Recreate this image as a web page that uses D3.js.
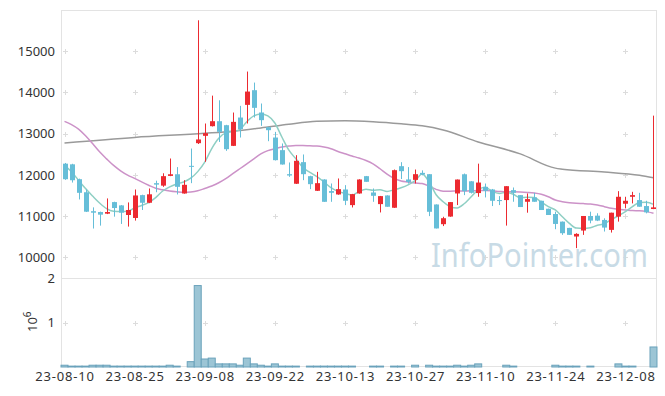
<!DOCTYPE html>
<html>
<head>
<meta charset="utf-8">
<title>Candles</title>
<script src="https://d3js.org/d3.v7.min.js"></script>
<style>
  body { margin: 0; background: #fff; }
  text { font-family: "Noto Sans", sans-serif; }
</style>
</head>
<body>
<div id="chart"></div>
<script>
// trading days (KRX), 23-08-10 .. 23-12-14
const dates = [
  "23-08-10","23-08-11","23-08-14","23-08-16","23-08-17","23-08-18","23-08-21","23-08-22","23-08-23","23-08-24",
  "23-08-25","23-08-28","23-08-29","23-08-30","23-08-31","23-09-01","23-09-04","23-09-05","23-09-06","23-09-07",
  "23-09-08","23-09-11","23-09-12","23-09-13","23-09-14","23-09-15","23-09-18","23-09-19","23-09-20","23-09-21",
  "23-09-22","23-09-25","23-09-26","23-09-27","23-10-04","23-10-05","23-10-06","23-10-10","23-10-11","23-10-12",
  "23-10-13","23-10-16","23-10-17","23-10-18","23-10-19","23-10-20","23-10-23","23-10-24","23-10-25","23-10-26",
  "23-10-27","23-10-30","23-10-31","23-11-01","23-11-02","23-11-03","23-11-06","23-11-07","23-11-08","23-11-09",
  "23-11-10","23-11-13","23-11-14","23-11-15","23-11-16","23-11-17","23-11-20","23-11-21","23-11-22","23-11-23",
  "23-11-24","23-11-27","23-11-28","23-11-29","23-11-30","23-12-01","23-12-04","23-12-05","23-12-06","23-12-07",
  "23-12-08","23-12-11","23-12-12","23-12-13","23-12-14"
];

const open = [
  12273,12257,11896,11580,11120,11100,11060,11341,11261,11028,
  10956,11510,11325,11800,11740,11976,12016,11550,12220,12770,
  12948,13182,13303,13206,12705,13392,13699,14055,13514,13158,
  12907,12601,12018,11786,12310,11970,11615,11889,11608,11526,
  11647,11268,11550,11970,11574,11292,11502,11204,12212,11890,
  11880,12050,12018,11283,10805,10990,11550,12016,11845,11560,
  11711,11647,11390,11390,11631,11510,11349,11454,11373,11180,
  11052,10867,10715,10506,10651,11004,11012,10908,10667,10988,
  11301,11470,11390,11245,11173
];
const high = [
  12290,12270,11910,11647,11213,11110,11430,11350,11270,11333,
  11647,11520,11671,11860,12040,12398,12190,11872,12640,15750,
  13247,13923,13810,13215,13513,13675,14507,14240,13732,13165,
  13044,12763,12302,12479,12496,11980,12075,11895,11792,11914,
  11752,11540,11895,11975,11671,11490,11505,12131,12309,12190,
  12131,12110,12020,11285,10985,11341,11889,12034,11850,12273,
  11791,11660,11486,11727,11695,11512,11550,11566,11375,11182,
  11108,10870,10717,10586,11004,11108,11070,10948,11084,11606,
  11470,11590,11566,11373,13438
];
const low = [
  11880,11815,11405,11100,10700,10770,11050,10988,10811,10747,
  10892,11149,11315,11580,11711,11970,11526,11545,11800,12750,
  12318,13175,12800,12584,12700,12907,13247,13392,13190,12818,
  12350,12250,11953,11780,11873,11655,11610,11348,11348,11520,
  11268,11211,11545,11833,11348,11090,11228,11200,11900,11790,
  11792,11990,11001,10702,10759,10985,11269,11510,11550,11470,
  11454,11245,11269,10771,11349,11221,11084,11349,11149,11028,
  10683,10546,10546,10225,10546,10827,10880,10627,10602,10867,
  11189,11309,11229,11068,11170
];
const close = [
  11896,11871,11566,11108,11084,11036,11100,11197,11084,11149,
  11502,11325,11530,11765,11970,12016,11711,11760,12200,12860,
  13012,13303,13045,12624,13287,13109,14022,13627,13328,13085,
  12358,12253,11986,12342,12018,11776,11800,11348,11567,11655,
  11373,11534,11889,11833,11494,11486,11228,12115,12091,11830,
  12018,12010,11106,10702,10950,11341,11888,11606,11566,11815,
  11614,11373,11373,11727,11566,11221,11414,11349,11149,11028,
  10811,10586,10546,10570,11004,10892,10892,10723,11084,11470,
  11373,11510,11229,11092,11213
];
const volume = [
  40000,20000,20000,20000,40000,40000,40000,20000,20000,20000,
  20000,20000,20000,20000,20000,40000,20000,0,120000,1830000,
  180000,200000,70000,70000,70000,40000,200000,70000,40000,20000,
  70000,20000,20000,20000,0,20000,20000,20000,20000,20000,
  20000,20000,0,0,20000,20000,0,20000,20000,0,
  40000,0,40000,20000,20000,20000,40000,20000,40000,70000,
  0,0,0,40000,20000,0,0,0,0,0,
  40000,20000,20000,20000,0,20000,0,0,0,70000,
  20000,20000,0,0,450000
];

// moving averages
const ma5 = [
  12230,12075,11870,11670,11490,11320,11185,11120,11110,11120,
  11200,11260,11330,11450,11610,11710,11780,11830,11920,12080,
  12310,12640,12890,13020,13050,13100,13290,13430,13480,13430,
  13260,12920,12600,12390,12180,12060,11960,11830,11690,11600,
  11550,11510,11600,11655,11630,11640,11600,11640,11690,11760,
  11860,12020,11830,11520,11350,11230,11200,11300,11470,11640,
  11700,11600,11550,11580,11530,11450,11460,11450,11340,11230,
  11150,10985,10825,10710,10705,10720,10780,10815,10920,11010,
  11110,11230,11330,11335,11285
];
const ma20 = [
  13300,13220,13110,12950,12760,12560,12390,12230,12100,11995,
  11915,11830,11750,11675,11640,11610,11590,11575,11585,11615,
  11670,11730,11810,11910,12030,12150,12270,12390,12510,12590,
  12635,12675,12700,12715,12715,12705,12700,12675,12635,12570,
  12515,12460,12410,12350,12270,12150,12020,11915,11855,11830,
  11805,11790,11730,11650,11605,11605,11610,11612,11614,11620,
  11620,11615,11600,11590,11590,11585,11575,11560,11530,11470,
  11390,11350,11325,11310,11305,11295,11270,11230,11190,11165,
  11150,11135,11130,11110,11070
];
const maLongIdx = [0, 10, 20, 24, 28, 32, 36, 40, 44, 48, 51, 54, 59, 65, 70, 71, 77, 82, 84];
const maLong = [12775, 12910, 13010, 13060, 13140, 13230, 13300, 13315, 13290, 13240, 13190, 13090, 12800, 12510, 12165, 12140, 12070, 11990, 11930];

const xTickIdx = [0, 10, 20, 30, 40, 50, 60, 70, 80];
const priceTicks = [10000, 11000, 12000, 13000, 14000, 15000];
const volTicks = [1000000, 2000000];

let plotL = 61, plotR = 657, plotT = 10, plotMid = 278, plotB = 367;

let svg = d3.select("#chart").append("svg")
    .attr("width", 665)
    .attr("height", 396);

let x = d3.scaleLinear().domain([-0.5, dates.length - 0.5]).range([plotL, plotR]);
let yP = d3.scaleLinear().domain([9500, 16000]).range([plotMid, plotT]);
let yV = d3.scaleLinear().domain([0, 2000000]).range([plotB, plotMid]);

// frame
svg.append("rect")
    .attr("x", plotL + 0.5).attr("y", plotT + 0.5)
    .attr("width", plotR - plotL - 1).attr("height", plotB - plotT - 1)
    .attr("fill", "none").attr("stroke", "#e3e3e3");
svg.append("line")
    .attr("x1", plotL).attr("x2", plotR)
    .attr("y1", plotMid + 0.5).attr("y2", plotMid + 0.5)
    .attr("stroke", "#e3e3e3");

// little + marks at grid crossings
let crossY = priceTicks.map(v => yP(v)).concat([yV(1000000)]);
let crosses = svg.append("g").attr("stroke", "#dcdcdc");
xTickIdx.forEach(i => {
  crossY.forEach(cy => {
    let cx = Math.round(x(i)) + 0.5, yy = Math.round(cy) + 0.5;
    crosses.append("line").attr("x1", cx - 2.5).attr("x2", cx + 2.5).attr("y1", yy).attr("y2", yy);
    crosses.append("line").attr("x1", cx).attr("x2", cx).attr("y1", yy - 2.5).attr("y2", yy + 2.5);
  });
});

// watermark
svg.append("text")
    .attr("x", 431).attr("y", 267)
    .attr("font-size", "33px")
    .attr("textLength", 217)
    .attr("lengthAdjust", "spacingAndGlyphs")
    .attr("fill", "#c8dbe6")
    .text("InfoPointer.com");

// moving averages
let line = d3.line().x(d => x(d[0])).y(d => yP(d[1])).curve(d3.curveMonotoneX);
svg.append("path")
    .attr("d", line(maLongIdx.map((i, k) => [i, maLong[k]])))
    .attr("fill", "none").attr("stroke", "#9a9a9a").attr("stroke-width", 1.5);
svg.append("path")
    .attr("d", line(ma20.map((v, i) => [i, v])))
    .attr("fill", "none").attr("stroke", "#cc92c8").attr("stroke-width", 1.5);
svg.append("path")
    .attr("d", line(ma5.map((v, i) => [i, v])))
    .attr("fill", "none").attr("stroke", "#8fcfc4").attr("stroke-width", 1.5);

// candles
let red = "#ec2a30", blue = "#66bed8";
let candles = svg.append("g").selectAll("g")
    .data(dates.map((d, i) => i))
    .enter().append("g");
candles.append("line")
    .attr("x1", i => Math.round(x(i)) + 0.5)
    .attr("x2", i => Math.round(x(i)) + 0.5)
    .attr("y1", i => yP(high[i]))
    .attr("y2", i => yP(low[i]))
    .attr("stroke", i => close[i] >= open[i] ? red : blue)
    .attr("stroke-width", 1);
candles.append("rect")
    .attr("x", i => Math.round(x(i)) - 2)
    .attr("width", 5)
    .attr("y", i => yP(Math.max(open[i], close[i])))
    .attr("height", i => Math.max(1, yP(Math.min(open[i], close[i])) - yP(Math.max(open[i], close[i]))))
    .attr("fill", i => close[i] >= open[i] ? red : blue);

// volume
svg.append("g").selectAll("rect")
    .data(dates.map((d, i) => i).filter(i => volume[i] > 0))
    .enter().append("rect")
    .attr("x", i => x(i) - 3.5)
    .attr("width", 7)
    .attr("y", i => yV(volume[i]))
    .attr("height", i => yV(0) - yV(volume[i]))
    .attr("fill", "#9cc5d5")
    .attr("stroke", "#6aa2bb")
    .attr("stroke-width", 1);

// axes
let yAxisP = d3.axisLeft(yP).tickValues(priceTicks).tickSize(0).tickPadding(6).tickFormat(d3.format("d"));
let gP = svg.append("g").attr("transform", "translate(" + plotL + ",0)").call(yAxisP);
let yAxisV = d3.axisLeft(yV).tickValues(volTicks).tickSize(0).tickPadding(6).tickFormat(d => d / 1000000);
let gV = svg.append("g").attr("transform", "translate(" + plotL + ",0)").call(yAxisV);
let xAxis = d3.axisBottom(x).tickValues(xTickIdx).tickSize(0).tickPadding(5).tickFormat(i => dates[i]);
let gX = svg.append("g").attr("transform", "translate(0," + plotB + ")").call(xAxis);

[gP, gV, gX].forEach(g => {
  g.select(".domain").remove();
  g.selectAll("text").attr("font-size", "13px").attr("fill", "#333").attr("font-family", "Noto Sans, sans-serif");
});
// date labels are drawn a bit wider in the original
gX.selectAll("text").attr("letter-spacing", "0.8px");

// 10^6 label
let sci = svg.append("text")
    .attr("transform", "translate(37,332) rotate(-90)")
    .attr("font-size", "13px")
    .attr("fill", "#333");
sci.append("tspan").text("10");
sci.append("tspan").attr("font-size", "10px").attr("dy", "-6").text("6");
</script>
</body>
</html>
